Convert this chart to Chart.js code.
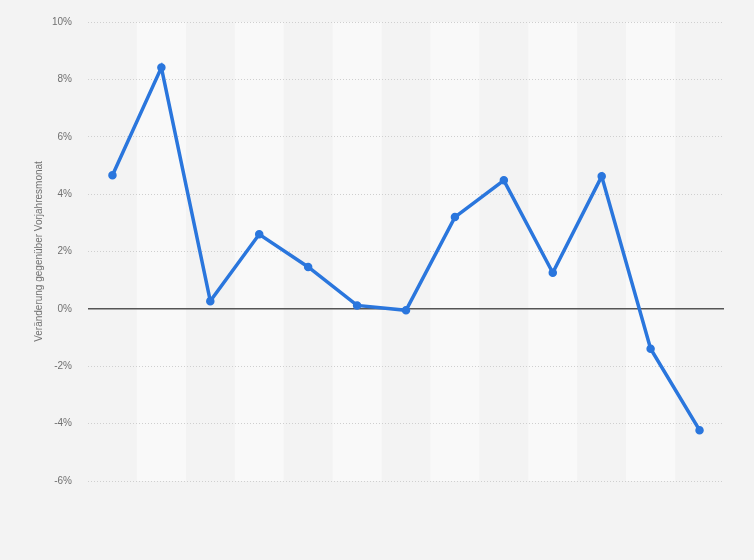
<!DOCTYPE html>
<html>
<head>
<meta charset="utf-8">
<script src="https://cdn.jsdelivr.net/npm/chart.js@4/dist/chart.umd.min.js"></script>
<style>
  html, body { margin: 0; padding: 0; background: #f3f3f3; }
  #wrap { width: 754px; height: 560px; position: relative; }
</style>
</head>
<body>
<div id="wrap"><canvas id="c" width="754" height="560"></canvas></div>
<script>
const categories = ["1","2","3","4","5","6","7","8","9","10","11","12","13"];
const values = [4.66, 8.41, 0.27, 2.60, 1.46, 0.12, -0.05, 3.20, 4.48, 1.26, 4.62, -1.39, -4.23];
const yTicks = [10, 8, 6, 4, 2, 0, -2, -4, -6];
const yTitle = "Veränderung gegenüber Vorjahresmonat";

const bandPlugin = {
  id: 'bands',
  beforeDraw(chart) {
    const { ctx, chartArea, scales } = chart;
    ctx.save();
    ctx.fillStyle = '#f3f3f3';
    ctx.fillRect(0, 0, chart.width, chart.height);
    const x = scales.x;
    const step = x.getPixelForValue(1) - x.getPixelForValue(0);
    ctx.fillStyle = '#f9f9f9';
    for (let i = 1; i < categories.length; i += 2) {
      const cx = x.getPixelForValue(i);
      ctx.fillRect(cx - step / 2, chartArea.top, step, chartArea.bottom - chartArea.top);
    }
    ctx.restore();
  }
};

new Chart(document.getElementById('c'), {
  type: 'line',
  data: {
    labels: categories,
    datasets: [{
      data: values,
      borderColor: '#2a76dd',
      backgroundColor: '#2a76dd',
      borderWidth: 3.5,
      pointRadius: 3.5,
      pointBorderWidth: 1.5,
      pointHoverRadius: 3.5,
      tension: 0,
      fill: false
    }]
  },
  options: {
    responsive: false,
    animation: false,
    devicePixelRatio: 1,
    layout: { padding: { left: 0, right: 30, top: 16, bottom: 79 } },
    plugins: { legend: { display: false }, tooltip: { enabled: false } },
    scales: {
      x: {
        type: 'category',
        offset: true,
        grid: { display: false, drawTicks: false },
        border: { display: false },
        ticks: { display: false },
        afterFit(s) { s.height = 0; }
      },
      y: {
        min: -6,
        max: 10,
        afterBuildTicks(s) { s.ticks = yTicks.map(v => ({ value: v })); },
        afterFit(s) { s.width = 88; },
        border: {
          display: false,
          dash: c => (c.tick && c.tick.value === 0) ? [] : [1, 2]
        },
        grid: {
          drawTicks: false,
          color: c => (c.tick && c.tick.value === 0) ? '#555555' : '#cfcfcf',
          lineWidth: c => (c.tick && c.tick.value === 0) ? 1.5 : 1
        },
        ticks: {
          padding: 16,
          color: '#707070',
          font: { family: 'Liberation Sans, Arial, sans-serif', size: 10 },
          callback: v => v + '%'
        },
        title: {
          display: true,
          text: yTitle,
          color: '#707070',
          font: { family: 'Liberation Sans, Arial, sans-serif', size: 10 },
          padding: { top: 33, bottom: 0 }
        }
      }
    }
  },
  plugins: [bandPlugin]
});
</script>
</body>
</html>
